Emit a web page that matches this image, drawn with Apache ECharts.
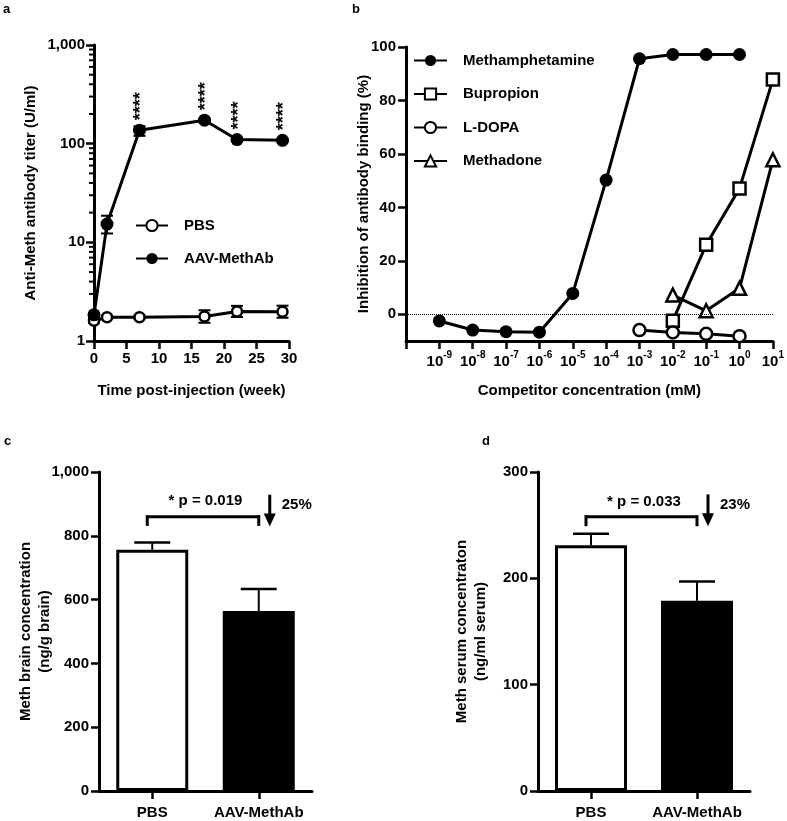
<!DOCTYPE html>
<html>
<head>
<meta charset="utf-8">
<title>Anti-Meth antibody panels</title>
<script src="https://cdn.jsdelivr.net/npm/echarts@6/dist/echarts.min.js"></script>
<style>
  html, body { margin: 0; padding: 0; background: #fff; }
  #main { width: 787px; height: 821px; }
</style>
</head>
<body>
<div id="main"></div>
<script>
// panel a: antibody titer after injection
const weeks = [0, 2, 7, 17, 22, 29]
const pbsTiter = [1.6, 1.74, 1.74, 1.77, 1.99, 1.98]
const pbsTiterLow = [1.52, 1.68, 1.69, 1.53, 1.75, 1.72]
const pbsTiterHigh = [1.68, 1.8, 1.79, 2.05, 2.27, 2.28]
const aavTiter = [1.84, 15.3, 137, 173, 110, 108]
const aavTiterLow = [1.76, 12.3, 120, 168, 107, 105]
const aavTiterHigh = [1.92, 18.6, 150, 178, 113, 111]
const aavStars = ['', '', '****', '****', '****', '****']
const titerMinorTicks = [2, 3, 4, 5, 6, 7, 8, 9, 20, 30, 40, 50, 60, 70, 80, 90, 200, 300, 400, 500, 600, 700, 800, 900]

// panel b: competition, x in log10(mM)
const methExp = [-9, -8, -7, -6, -5, -4, -3, -2, -1, 0]
const methInhib = [-2.5, -5.9, -6.5, -6.7, 7.8, 50.2, 95.6, 97.2, 97.2, 97.2]
const bupropionExp = [-2, -1, 0, 1]
const bupropionInhib = [-2.4, 26.0, 47.1, 87.8]
const ldopaExp = [-3, -2, -1, 0]
const ldopaInhib = [-5.9, -6.8, -7.3, -8.2]
const methadoneExp = [-2, -1, 0, 1]
const methadoneInhib = [7.2, 1.3, 9.7, 57.8]
const inhibTicks = [0, 20, 40, 60, 80, 100]

// panels c and d: meth concentrations
const groups = ['PBS', 'AAV-MethAb']
const brainMean = [756, 564]
const brainSem = [23, 69]
const serumMean = [231, 179]
const serumSem = [11, 18]
const brainNote = ['* p = 0.019', '25%']
const serumNote = ['* p = 0.033', '23%']
// bracket y, leg end, arrow top, arrow tip, p text y, percent text y
const brainNoteY = [860, 831, 929, 829, 908, 897]
const serumNoteY = [258, 249, 279, 249, 272, 269]

const FONT = '"Liberation Sans", Arial, Helvetica, sans-serif'
const txt = { color: '#000', fontSize: 15, fontWeight: 'bold', fontFamily: FONT }

function makeAxis(opts, label, tick) {
  return Object.assign({
    splitLine: { show: false },
    axisLine: { show: true, onZero: false, lineStyle: { color: '#000', width: 3 } },
    axisTick: Object.assign({ show: true, length: 8, lineStyle: { color: '#000', width: 2.5 } }, tick || {}),
    axisLabel: Object.assign({ show: true }, txt, label || {}),
    nameLocation: 'middle',
    nameMoveOverlap: false,
    nameTextStyle: Object.assign({ lineHeight: 19 }, txt)
  }, opts)
}

function line(x1, y1, x2, y2, w) {
  return { type: 'line', shape: { x1, y1, x2, y2 }, style: { stroke: '#000', lineWidth: w || 2 } }
}

function renderRange(params, api) {
  const lo = api.coord([api.value(0), api.value(1)])
  const hi = api.coord([api.value(0), api.value(2)])
  const w = 6
  return {
    type: 'group',
    children: [
      line(lo[0], lo[1], hi[0], hi[1], 2),
      line(lo[0] - w, lo[1], lo[0] + w, lo[1], 2),
      line(hi[0] - w, hi[1], hi[0] + w, hi[1], 2)
    ]
  }
}

function renderBarError(params, api) {
  const lo = api.coord([api.value(0), api.value(1)])
  const hi = api.coord([api.value(0), api.value(2)])
  return {
    type: 'group',
    children: [
      line(lo[0], lo[1], hi[0], hi[1], 2),
      line(hi[0] - 18, hi[1], hi[0] + 18, hi[1], 2.5)
    ]
  }
}

function renderStars(params, api) {
  const label = aavStars[params.dataIndex]
  if (!label) return null
  const p = api.coord([api.value(0), api.value(1)])
  return {
    type: 'text',
    x: p[0] + 2,
    y: p[1] - 10,
    rotation: Math.PI / 2,
    style: { text: label, align: 'left', verticalAlign: 'middle', fill: '#000', fontSize: 18, fontWeight: 'bold', fontFamily: FONT }
  }
}

function renderMinorTicks(params, api) {
  const p = api.coord([api.value(0), api.value(1)])
  return line(p[0] - 5, p[1], p[0], p[1], 2)
}

function makeNoteRenderer(note, ys) {
  return function (params, api) {
    const left = api.coord([0, ys[0]])
    const right = api.coord([1, ys[0]])
    const legY = api.coord([0, ys[1]])[1]
    const arrTop = api.coord([1, ys[2]])[1]
    const arrTip = api.coord([1, ys[3]])[1]
    const pY = api.coord([0, ys[4]])[1]
    const pctY = api.coord([0, ys[5]])[1]
    const ax = right[0] + 11
    return {
      type: 'group',
      children: [
        line(left[0] - 5, left[1], right[0], right[1], 3),
        line(left[0] - 5, left[1] - 1.5, left[0] - 5, legY, 3),
        line(right[0], right[1] - 1.5, right[0], legY, 3),
        line(ax, arrTop, ax, arrTip - 10, 3),
        { type: 'polygon', shape: { points: [[ax - 6, arrTip - 13], [ax + 6, arrTip - 13], [ax, arrTip]] }, style: { fill: '#000' } },
        { type: 'text', x: (left[0] + right[0]) / 2, y: pY, style: Object.assign({ text: note[0], align: 'center', verticalAlign: 'middle', fill: '#000' }, txt) },
        { type: 'text', x: right[0] + 23, y: pctY, style: Object.assign({ text: note[1], align: 'left', verticalAlign: 'middle', fill: '#000' }, txt) }
      ]
    }
  }
}

const openItem = { color: '#fff', borderColor: '#000', borderWidth: 2.5 }
const lineSty = { color: '#000', width: 3 }

const myChart = echarts.init(document.getElementById('main'), null, { renderer: 'canvas' })

const option = {
  animation: false,
  backgroundColor: '#fff',
  textStyle: { fontFamily: FONT },
  graphic: [
    { type: 'text', left: 3, top: 3, style: { text: 'a', fill: '#000', font: 'bold 13px ' + FONT } },
    { type: 'text', left: 352, top: 3, style: { text: 'b', fill: '#000', font: 'bold 13px ' + FONT } },
    { type: 'text', left: 4, top: 435, style: { text: 'c', fill: '#000', font: 'bold 13px ' + FONT } },
    { type: 'text', left: 482, top: 435, style: { text: 'd', fill: '#000', font: 'bold 13px ' + FONT } }
  ],
  grid: [
    { left: 94, top: 45, width: 195, height: 296 },
    { left: 406, top: 47, width: 368, height: 294 },
    { left: 99, top: 472, width: 213, height: 319 },
    { left: 538, top: 472, width: 212, height: 319 }
  ],
  legend: [
    {
      left: 135, top: 218, orient: 'vertical', padding: 0, itemGap: 18, itemWidth: 32, itemHeight: 14,
      selectedMode: false, data: ['PBS', 'AAV-MethAb'],
      textStyle: Object.assign({ padding: [0, 0, 0, 11] }, txt)
    },
    {
      left: 413, top: 53, orient: 'vertical', padding: 0, itemGap: 18.5, itemWidth: 33, itemHeight: 14,
      selectedMode: false, data: ['Methamphetamine', 'Bupropion', 'L-DOPA', 'Methadone'],
      textStyle: Object.assign({ padding: [0, 0, 0, 11] }, txt)
    }
  ],
  xAxis: [
    makeAxis({ gridIndex: 0, type: 'value', min: 0, max: 30, interval: 5, name: 'Time post-injection (week)', nameGap: 40 }, { margin: 10 }),
    makeAxis({ gridIndex: 1, type: 'value', min: -10, max: 1, interval: 1, name: 'Competitor concentration (mM)', nameGap: 40 }, {
      margin: 9,
      formatter: v => (v === -10 ? '' : '{b|10}{s|' + v + '}'),
      rich: {
        b: Object.assign({ lineHeight: 19, verticalAlign: 'bottom' }, txt),
        s: { color: '#000', fontSize: 10, fontWeight: 'bold', fontFamily: FONT, lineHeight: 10, verticalAlign: 'top' }
      }
    }),
    makeAxis({ gridIndex: 2, type: 'category', data: groups }, { margin: 14, interval: 0 }, { alignWithLabel: true }),
    makeAxis({ gridIndex: 3, type: 'category', data: groups }, { margin: 14, interval: 0 }, { alignWithLabel: true })
  ],
  yAxis: [
    makeAxis({ gridIndex: 0, type: 'log', logBase: 10, min: 1, max: 1000, name: 'Anti-Meth antibody titer (U/ml)', nameGap: 54 }, {
      margin: 9, formatter: v => Number(v).toLocaleString('en-US')
    }),
    makeAxis({ gridIndex: 1, type: 'value', min: -10, max: 100, name: 'Inhibition of antibody binding (%)', nameGap: 33 }, {
      margin: 10, customValues: inhibTicks
    }, { customValues: inhibTicks }),
    makeAxis({ gridIndex: 2, type: 'value', min: 0, max: 1000, interval: 200, name: 'Meth brain concentration\n(ng/g brain)', nameGap: 45 }, {
      margin: 10, formatter: v => Number(v).toLocaleString('en-US')
    }),
    makeAxis({ gridIndex: 3, type: 'value', min: 0, max: 300, interval: 100, name: 'Meth serum concentraton\n(ng/ml serum)', nameGap: 48 }, { margin: 10 })
  ],
  series: [
    // panel a
    {
      type: 'custom', xAxisIndex: 0, yAxisIndex: 0, clip: false, silent: true, z: 1,
      data: titerMinorTicks.map(v => [0, v]), renderItem: renderMinorTicks
    },
    {
      type: 'custom', xAxisIndex: 0, yAxisIndex: 0, silent: true, z: 1,
      data: weeks.map((w, i) => [w, pbsTiterLow[i], pbsTiterHigh[i]]), renderItem: renderRange
    },
    {
      type: 'custom', xAxisIndex: 0, yAxisIndex: 0, silent: true, z: 1,
      data: weeks.map((w, i) => [w, aavTiterLow[i], aavTiterHigh[i]]), renderItem: renderRange
    },
    {
      name: 'PBS', type: 'line', xAxisIndex: 0, yAxisIndex: 0, z: 3,
      data: weeks.map((w, i) => [w, pbsTiter[i]]),
      symbol: 'circle', symbolSize: 10, showAllSymbol: true,
      lineStyle: lineSty, itemStyle: openItem
    },
    {
      name: 'AAV-MethAb', type: 'line', xAxisIndex: 0, yAxisIndex: 0, z: 4,
      data: weeks.map((w, i) => [w, aavTiter[i]]),
      symbol: 'circle', symbolSize: 13, showAllSymbol: true,
      lineStyle: lineSty, itemStyle: { color: '#000' }
    },
    {
      type: 'custom', xAxisIndex: 0, yAxisIndex: 0, clip: false, silent: true, z: 5,
      data: weeks.map((w, i) => [w, aavTiter[i]]), renderItem: renderStars
    },
    // panel b
    {
      name: 'Methamphetamine', type: 'line', xAxisIndex: 1, yAxisIndex: 1, z: 4,
      data: methExp.map((e, i) => [e, methInhib[i]]),
      symbol: 'circle', symbolSize: 13, lineStyle: lineSty, itemStyle: { color: '#000' },
      markLine: {
        silent: true, symbol: 'none', label: { show: false },
        lineStyle: { color: '#000', type: 'dotted', width: 1 },
        data: [{ yAxis: 0 }]
      }
    },
    {
      name: 'Bupropion', type: 'line', xAxisIndex: 1, yAxisIndex: 1, z: 4,
      data: bupropionExp.map((e, i) => [e, bupropionInhib[i]]),
      symbol: 'rect', symbolSize: 12, lineStyle: lineSty, itemStyle: openItem
    },
    {
      name: 'L-DOPA', type: 'line', xAxisIndex: 1, yAxisIndex: 1, z: 4,
      data: ldopaExp.map((e, i) => [e, ldopaInhib[i]]),
      symbol: 'circle', symbolSize: 12, lineStyle: lineSty, itemStyle: openItem
    },
    {
      name: 'Methadone', type: 'line', xAxisIndex: 1, yAxisIndex: 1, z: 4,
      data: methadoneExp.map((e, i) => [e, methadoneInhib[i]]),
      symbol: 'triangle', symbolSize: 13, lineStyle: lineSty, itemStyle: openItem
    },
    // panel c
    {
      type: 'bar', xAxisIndex: 2, yAxisIndex: 2, barWidth: 72, z: 2,
      data: brainMean.map((v, i) => ({ value: v, itemStyle: { color: i ? '#000' : '#fff' } })),
      itemStyle: { borderColor: '#000', borderWidth: 3 }
    },
    {
      type: 'custom', xAxisIndex: 2, yAxisIndex: 2, silent: true, z: 1,
      data: brainMean.map((v, i) => [i, v, v + brainSem[i]]), renderItem: renderBarError
    },
    {
      type: 'custom', xAxisIndex: 2, yAxisIndex: 2, silent: true, clip: false, z: 3,
      data: [[0, brainNoteY[0]]], renderItem: makeNoteRenderer(brainNote, brainNoteY)
    },
    // panel d
    {
      type: 'bar', xAxisIndex: 3, yAxisIndex: 3, barWidth: 72, z: 2,
      data: serumMean.map((v, i) => ({ value: v, itemStyle: { color: i ? '#000' : '#fff' } })),
      itemStyle: { borderColor: '#000', borderWidth: 3 }
    },
    {
      type: 'custom', xAxisIndex: 3, yAxisIndex: 3, silent: true, z: 1,
      data: serumMean.map((v, i) => [i, v, v + serumSem[i]]), renderItem: renderBarError
    },
    {
      type: 'custom', xAxisIndex: 3, yAxisIndex: 3, silent: true, clip: false, z: 3,
      data: [[0, serumNoteY[0]]], renderItem: makeNoteRenderer(serumNote, serumNoteY)
    }
  ]
}

myChart.setOption(option)
</script>
</body>
</html>
